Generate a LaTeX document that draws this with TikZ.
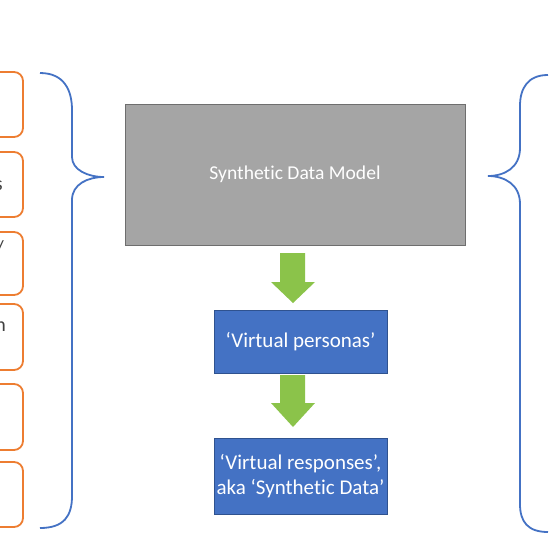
\documentclass[tikz,border=0pt]{standalone}
\usepackage{fontspec}
\setmainfont{Carlito}[Ligatures=CommonOff]
\definecolor{obrd}{HTML}{ED7D31}
\definecolor{bbrace}{HTML}{4472C4}
\definecolor{bfill}{HTML}{4472C4}
\definecolor{bline}{HTML}{2F528F}
\definecolor{gfill}{HTML}{A5A5A5}
\definecolor{gline}{HTML}{6E6E6E}
\definecolor{arrg}{HTML}{8BC34A}
\definecolor{txtg}{HTML}{404040}
\tikzset{
  obox/.style={draw=obrd, line width=1.8pt, rounded corners=9pt},
  brc/.style={draw=bbrace, line width=1.8pt},
  gbox/.style={draw=gline, fill=gfill, line width=1pt, text=white, font=\fontsize{19.6}{23}\selectfont},
  bbox/.style={draw=bline, fill=bfill, line width=1pt, text=white, font=\fontsize{21}{24.5}\selectfont, align=center, inner sep=0pt},
  frag/.style={text=txtg, font=\fontsize{20}{24}\selectfont, anchor=east, inner sep=0pt},
  garrow/.style={fill=arrg, draw=none}
}
\begin{document}
\begin{tikzpicture}[x=1pt,y=-1pt]
\useasboundingbox (0,0) rectangle (550,550);
% left orange boxes (cut off at left edge)
\begin{scope}
\clip (0,0) rectangle (550,550);
\draw[obox] (-60,72) rectangle (23,137);
\draw[obox] (-60,152) rectangle (23,217);
\draw[obox] (-60,232) rectangle (23,295);
\draw[obox] (-60,304) rectangle (23,370);
\draw[obox] (-60,384) rectangle (23,450);
\draw[obox] (-60,462) rectangle (23,527);
\node[frag] (f1) at (3,186) {s};
\node[frag] (f2) at (4,248) {/};
\node[frag] (f3) at (6,327) {n};
\end{scope}
% left brace
\draw[brc] (40,73) .. controls (64,73) and (72,90) .. (72,110)
  -- (72,157) .. controls (72,170) and (88,177) .. (104,177)
  .. controls (88,177) and (72,184) .. (72,200)
  -- (72,496) .. controls (72,516) and (64,528) .. (40,528);
% right brace
\draw[brc] (548,75) .. controls (528,75) and (520,88) .. (520,106)
  -- (520,148) .. controls (520,168) and (504,176) .. (488,176)
  .. controls (504,176) and (520,184) .. (520,204)
  -- (520,504) .. controls (520,522) and (528,532) .. (548,532);
% central boxes
\node[gbox, minimum width=340pt, minimum height=141pt] (model) at (295,174.5) {Synthetic Data Model};
\node[bbox, minimum width=173pt, minimum height=63pt] (pers) at (300.5,341.5) {‘Virtual personas’};
\node[bbox, minimum width=173pt, minimum height=76pt] (resp) at (300.5,476) {‘Virtual responses’,\\aka ‘Synthetic Data’};
% green block arrows
\fill[garrow] (280,253) -- (305,253) -- (305,282) -- (315,282) -- (293,303) -- (271,282) -- (280,282) -- cycle;
\fill[garrow] (280,375) -- (305,375) -- (305,403) -- (315,403) -- (293,427) -- (271,403) -- (280,403) -- cycle;
\end{tikzpicture}
\end{document}
